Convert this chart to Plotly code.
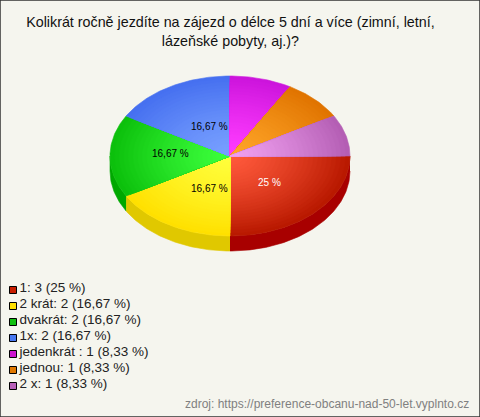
import math
import plotly.graph_objects as go

categories = ["1", "2 krát", "dvakrát", "1x", "jedenkrát ", "jednou", "2 x"]
counts = [3, 2, 2, 2, 1, 1, 1]
percent_text = ["25 %", "16,67 %", "16,67 %", "16,67 %", "8,33 %", "8,33 %", "8,33 %"]
inner_colors = ["#ff5a3c", "#ffff3c", "#3cff3c", "#78a0ff", "#ff3cff", "#ffa528", "#f0a0f0"]
outer_colors = ["#b91900", "#ffe000", "#0cc00c", "#4670f0", "#cc14dc", "#e07400", "#b45eb4"]
wall_colors = ["#a80000", "#e0c800", "#00a800", "#3050c0", "#a000b0", "#b05000", "#904090"]
swatch_colors = ["#c81e00", "#ffe000", "#10c010", "#4878f0", "#cc14cc", "#e07800", "#b860b8"]
label_colors = ["white", "black", "black", "black"]
label_shift_x = [0, 8, -3, 8]
label_shift_y = [0, 0, 3, -3]

TITLE = "Kolikrát ročně jezdíte na zájezd o délce 5 dní a více (zimní, letní,<br>lázeňské pobyty, aj.)?"
SOURCE = "zdroj: https://preference-obcanu-nad-50-let.vyplnto.cz"
BG = "#f5f5ee"
CX, CY, RX, RY, DEPTH = 230, 156, 120, 80, 15
RINGS = 26


def hex_rgb(h):
    return [int(h[i:i + 2], 16) for i in (1, 3, 5)]


def mix(a, b, t):
    ca, cb = hex_rgb(a), hex_rgb(b)
    return "rgb({},{},{})".format(*[round(x + (y - x) * t) for x, y in zip(ca, cb)])


def arc(a0, a1, scale=1.0, dy=0.0):
    n = max(2, int(abs(a1 - a0) * 60))
    pts = [a0 + (a1 - a0) * i / n for i in range(n + 1)]
    return ([CX + RX * scale * math.cos(p) for p in pts],
            [CY + dy + RY * scale * math.sin(p) for p in pts])


fig = go.Figure()
total = sum(counts)
bounds = [0.0]
for c in counts:
    bounds.append(bounds[-1] + c / total * 2 * math.pi)


def add_fill(xs, ys, color):
    fig.add_trace(go.Scatter(x=xs, y=ys, mode="lines", fill="toself", fillcolor=color,
                             line=dict(width=0.6, color=color), hoverinfo="skip", showlegend=False))


# side wall (only the front half of the ellipse is visible)
for i in range(len(counts)):
    a0, a1 = bounds[i], min(bounds[i + 1], math.pi)
    if a1 <= a0:
        continue
    tx, ty = arc(a0, a1)
    bx, by = arc(a0, a1, dy=DEPTH)
    add_fill(tx + bx[::-1], ty + by[::-1], wall_colors[i])

# top surface: concentric sectors give the radial shading
for i in range(len(counts)):
    for r in range(RINGS):
        s = 1 - r / RINGS
        ax, ay = arc(bounds[i], bounds[i + 1], scale=s)
        add_fill([CX] + ax + [CX], [CY] + ay + [CY],
                 mix(inner_colors[i], outer_colors[i], s ** 1.3))

# legend
legend_text = [f"{c}: {n} ({p})" for c, n, p in zip(categories, counts, percent_text)]
legend_y = [290 + 16 * i for i in range(len(categories))]
fig.add_trace(go.Scatter(
    x=[13] * len(categories), y=legend_y, mode="markers",
    marker=dict(symbol="square", size=7, color=swatch_colors, line=dict(color="black", width=1)),
    hoverinfo="skip", showlegend=False))
fig.add_trace(go.Scatter(
    x=[19.5] * len(categories), y=[v - 1 for v in legend_y], mode="text",
    text=legend_text, textposition="middle right",
    textfont=dict(family="Liberation Sans", size=13.5, color="#222222"),
    hoverinfo="skip", showlegend=False))

annotations = []
for i in range(4):
    mid = (bounds[i] + bounds[i + 1]) / 2
    annotations.append(dict(
        x=CX + RX * 0.47 * math.cos(mid), y=CY + RY * 0.47 * math.sin(mid),
        xref="x", yref="y", text=percent_text[i], showarrow=False,
        xshift=label_shift_x[i], yshift=label_shift_y[i],
        font=dict(family="Liberation Sans", size=10, color=label_colors[i])))
annotations.append(dict(x=471, y=404, xref="x", yref="y", xanchor="right", text=SOURCE, showarrow=False,
                        font=dict(family="Liberation Sans", size=12, color="#808080")))

fig.update_layout(
    width=480, height=417, margin=dict(l=0, r=0, t=0, b=0),
    paper_bgcolor=BG, plot_bgcolor=BG,
    title=dict(text=TITLE, x=0.48, xanchor="center", y=0.935, yanchor="top",
               font=dict(family="Liberation Sans", size=14.3, color="#111111")),
    xaxis=dict(range=[0, 480], visible=False, fixedrange=True),
    yaxis=dict(range=[417, 0], visible=False, fixedrange=True),
    annotations=annotations,
    shapes=[dict(type="rect", xref="paper", yref="paper", x0=0, y0=0, x1=1, y1=1,
                 line=dict(color="#333333", width=1.5))],
    showlegend=False,
)
fig.write_html("out.html", config={"displayModeBar": False},
               post_script="document.body.style.margin='0';")
